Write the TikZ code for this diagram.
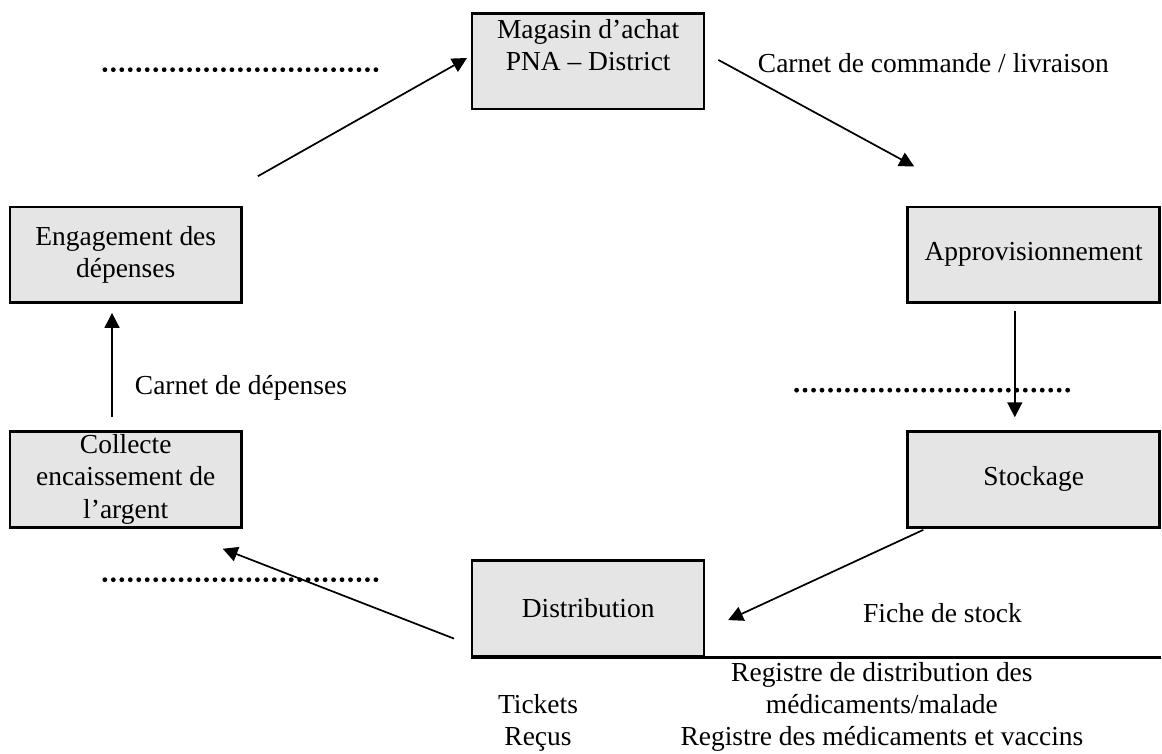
\documentclass[tikz,border=0pt]{standalone}
\usepackage{fontspec}
\setmainfont{Liberation Serif}
\usepackage{tikz}
\usetikzlibrary{calc,positioning,arrows.meta}

\begin{document}
\begin{tikzpicture}[font=\fontsize{12}{14}\selectfont,
        block/.style={rectangle, draw, line width=1.1pt, fill=gray!20, align=center, minimum width=3.56cm, minimum height=1.47cm, inner sep=0pt},
        wideblock/.style={block, minimum width=3.87cm},
        arrow/.style={-{Triangle[length=6.5pt,width=6.5pt]}, line width=0.75pt},
        dotline/.style={line width=2.1pt, line cap=round, dash pattern=on 0pt off 3.7pt}]

        \useasboundingbox (0,0) rectangle (17.84,-11.57);

        \node[block] (achat) at (9.03,-0.94) {Magasin d'achat\\PNA -- District\\~};
        \node[block] (engag) at (1.93,-3.91) {Engagement des\\dépenses};
        \node[block] (collecte) at (1.93,-7.36) {Collecte\\encaissement de\\l'argent};
        \node[wideblock] (appro) at (15.87,-3.91) {Approvisionnement};
        \node[wideblock] (stock) at (15.87,-7.36) {Stockage};
        \node[block] (distri) at (9.03,-9.34) {Distribution};

        \draw[arrow] ($(engag.north east)+(0.23,0.45)$) -- ($(achat.west)+(-0.06,0.05)$);
        \draw[arrow] ($(achat.east)+(0.2,0.02)$) -- ($(appro.north west)+(0.12,0.6)$);
        \draw[arrow] ($(appro.south)+(-0.29,-0.11)$) -- ($(stock.north)+(-0.29,0.2)$);
        \draw[arrow] ($(stock.south west)+(0.26,-0.02)$) -- ($(distri.east)+(0.35,-0.18)$);
        \draw[arrow] ($(distri.south west)+(-0.26,0.29)$) -- ($(collecte.south east)+(-0.31,-0.31)$);
        \draw[arrow] ($(collecte.north)+(-0.21,0.2)$) -- ($(engag.south)+(-0.21,-0.14)$);

        \draw[line width=1.1pt] (distri.south west) -- ++(10.6,0);

        \node (lcommande) at (14.33,-0.97) {Carnet de commande / livraison};
        \node (ldepenses) at (3.70,-5.96) {Carnet de dépenses};
        \node (lfiche) at (14.47,-9.41) {Fiche de stock};
        \node[align=center] (lregistre) at (13.54,-10.85) {Registre de distribution des\\médicaments/malade\\Registre des médicaments et vaccins};
        \node[align=center] (ltickets) at (8.26,-11.10) {Tickets\\Reçus};

        % pointilles
        \draw[dotline] (1.61,-1.07) -- (5.79,-1.07);
        \draw[dotline] (12.23,-5.99) -- (16.44,-5.99);
        \draw[dotline] (1.61,-8.90) -- (5.79,-8.90);
    \end{tikzpicture}
\end{document}
